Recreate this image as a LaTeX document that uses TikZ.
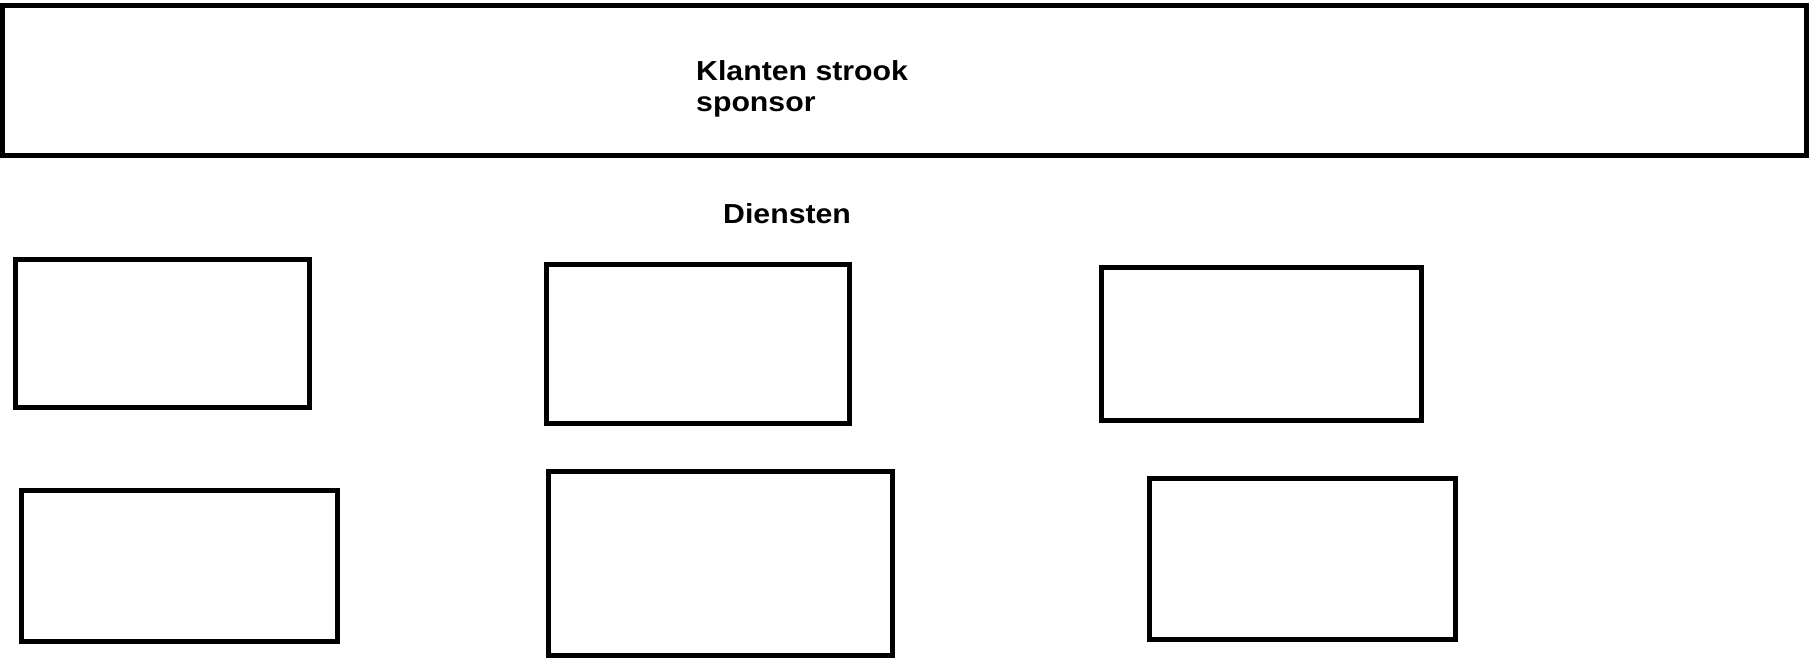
\documentclass[tikz,border=0pt]{standalone}
\usepackage{fontspec}
\newfontfamily\lab{Liberation Sans}[FakeStretch=1.1]
\begin{document}
\begin{tikzpicture}[x=1pt,y=-1pt,
  box/.style={draw=black,line width=5pt,line join=miter},
  lbl/.style={font=\lab\bfseries\fontsize{27.5}{30.5}\selectfont,inner sep=0pt,anchor=base west}]
\useasboundingbox (0,0) rectangle (1810,669);
\draw[box] (2,5.5) rectangle (1806.5,155);
\node[lbl] (t1) at (696,80.7) {Klanten strook};
\node[lbl] (t2) at (696,111) {sponsor};
\node[lbl] (t3) at (723,223.3) {Diensten};
\draw[box] (15.2,259.3) rectangle (309.2,407);
\draw[box] (546.5,264.8) rectangle (849.2,423.2);
\draw[box] (1101.8,267.5) rectangle (1421.8,420.2);
\draw[box] (21,490.8) rectangle (337,641.8);
\draw[box] (548,471.8) rectangle (892,655.8);
\draw[box] (1149.8,478.5) rectangle (1455.2,639.2);
\end{tikzpicture}
\end{document}
